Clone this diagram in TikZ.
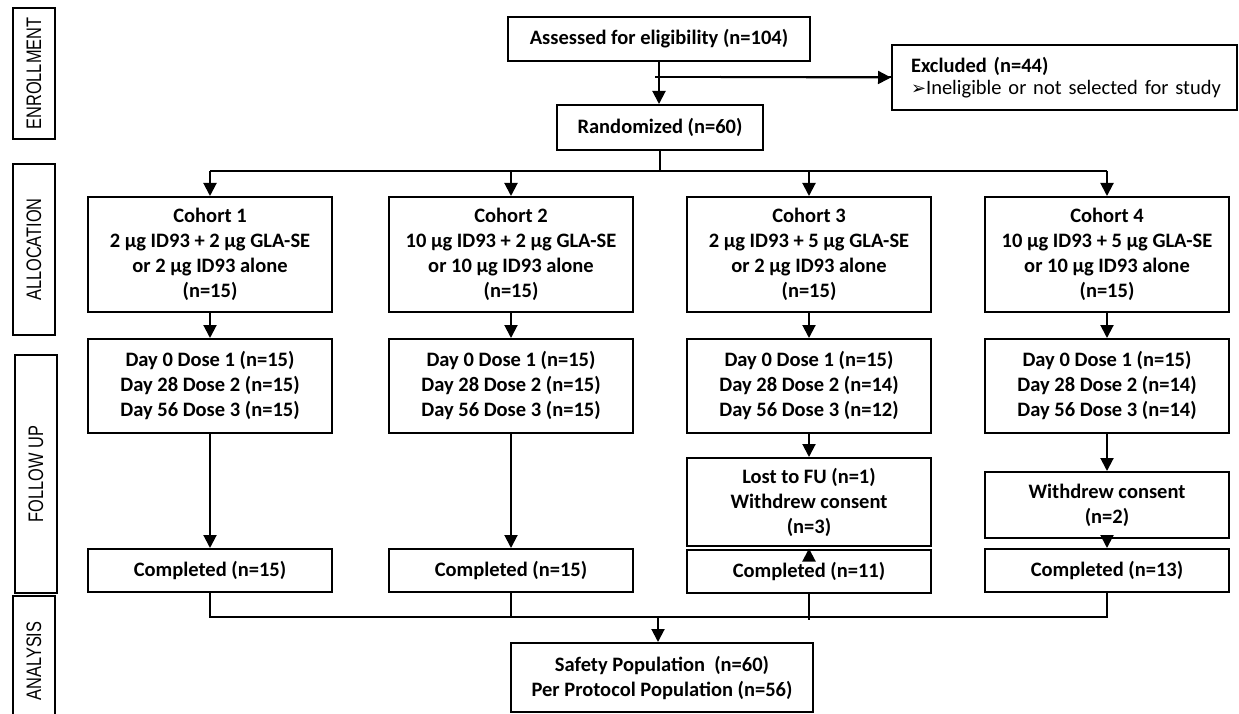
\documentclass[tikz,border=0pt]{standalone}
\usepackage{fontspec}
\usepackage{graphicx}
\setmainfont{Carlito}
\newfontfamily\labfont{Liberation Sans}
\newfontfamily\symfont{DejaVu Sans}
\usetikzlibrary{arrows.meta}
\begin{document}
\begin{tikzpicture}[x=1pt,y=-1pt,
  box/.style={draw, line width=2pt, inner sep=0pt, align=center, font=\bfseries\fontsize{20.5}{25}\selectfont},
  cbox/.style={box, minimum width=244pt},
  arr/.style={line width=2pt, -{Triangle[length=13pt,width=13pt]}},
  ln/.style={line width=2pt},
  lab/.style={draw, line width=2pt, inner sep=0pt, rotate=90, minimum height=42pt, font=\labfont\fontsize{21}{24}\selectfont}
]
\useasboundingbox (0,0) rectangle (1239,714);

% side labels
\node[lab, minimum width=131pt] (lenr) at (34,73.5) {\scalebox{0.78}[1]{ENROLLMENT}};
\node[lab, minimum width=171pt] (lall) at (34,249.5) {\scalebox{0.78}[1]{ALLOCATION}};
\node[lab, minimum width=238pt] (lfol) at (36,474) {\scalebox{0.78}[1]{FOLLOW UP}};
\node[lab, minimum width=130pt] (lana) at (34,661) {\scalebox{0.78}[1]{ANALYSIS}};

% enrollment
\node[box, minimum width=302pt, minimum height=44pt] (assess) at (659,39) {Assessed for eligibility (n=104)};
\node[box, minimum width=206pt, minimum height=45pt] (rand) at (660,127.5) {Randomized (n=60)};
\node[box, align=left, minimum width=345pt, minimum height=65pt, text width=307pt,
      font=\bfseries\fontsize{20.5}{22}\selectfont] (excl) at (1064.5,77.5)
  {Excluded (n=44)\\\mbox{\mdseries{\symfont\fontsize{18}{18}\selectfont ➢}Ineligible or not selected for study}};

% cohorts
\node[cbox, minimum height=115pt] (c1) at (210,254.5) {Cohort 1\\2 µg ID93 + 2 µg GLA-SE\\or 2 µg ID93 alone\\(n=15)};
\node[cbox, minimum height=115pt] (c2) at (511,254.5) {Cohort 2\\10 µg ID93 + 2 µg GLA-SE\\or 10 µg ID93 alone\\(n=15)};
\node[cbox, minimum height=115pt] (c3) at (809,254.5) {Cohort 3\\2 µg ID93 + 5 µg GLA-SE\\or 2 µg ID93 alone\\(n=15)};
\node[cbox, minimum height=115pt] (c4) at (1107,254.5) {Cohort 4\\10 µg ID93 + 5 µg GLA-SE\\or 10 µg ID93 alone\\(n=15)};

% doses
\node[cbox, minimum height=94pt] (d1) at (210,386) {Day 0 Dose 1 (n=15)\\Day 28 Dose 2 (n=15)\\Day 56 Dose 3 (n=15)};
\node[cbox, minimum height=94pt] (d2) at (511,386) {Day 0 Dose 1 (n=15)\\Day 28 Dose 2 (n=15)\\Day 56 Dose 3 (n=15)};
\node[cbox, minimum height=94pt] (d3) at (809,386) {Day 0 Dose 1 (n=15)\\Day 28 Dose 2 (n=14)\\Day 56 Dose 3 (n=12)};
\node[cbox, minimum height=94pt] (d4) at (1107,386) {Day 0 Dose 1 (n=15)\\Day 28 Dose 2 (n=14)\\Day 56 Dose 3 (n=14)};

% follow up
\node[cbox, minimum height=88pt] (f3) at (809,502) {Lost to FU (n=1)\\Withdrew consent\\(n=3)};
\node[cbox, minimum height=66pt] (f4) at (1107,505) {Withdrew consent\\(n=2)};

% completed
\node[cbox, minimum height=43pt] (k1) at (210,570.5) {Completed (n=15)};
\node[cbox, minimum height=43pt] (k2) at (511,570.5) {Completed (n=15)};
\node[cbox, minimum height=43pt] (k3) at (809,571) {Completed (n=11)};
\node[cbox, minimum height=43pt] (k4) at (1107,570.5) {Completed (n=13)};

% analysis
\node[box, minimum width=302pt, minimum height=69pt] (safe) at (662,677.5) {Safety Population \ (n=60)\\Per Protocol Population (n=56)};

% connectors
\coordinate (exstart) at (655,77);
\coordinate (dl) at (0,171);
\coordinate (bl) at (0,617);
\coordinate (join) at (658,617);

\draw[arr] (assess.south) -- (assess.south |- rand.north);
\draw[ln] (exstart) -- (exstart -| excl.west);
\draw[arr] (exstart -| 720,0) -- (excl.west);
\draw[ln] (rand.south) -- (rand.south |- dl);
\draw[ln] (c1.north |- dl) -- (c4.north |- dl);
\foreach \n in {c1,c2,c3,c4} {\draw[arr] (\n.north |- dl) -- (\n.north);}
\draw[arr] (c1) -- (d1);
\draw[arr] (c2) -- (d2);
\draw[arr] (c3) -- (d3);
\draw[arr] (c4) -- (d4);
\draw[arr] (d1) -- (k1);
\draw[arr] (d2) -- (k2);
\draw[arr] (d3) -- (f3);
\draw[arr] (d4) -- (f4);
\draw[arr] (f4) -- (k4);
\draw[arr] ([yshift=-7pt]k3.north) -- (k3.north);

\draw[ln] (k1.south) -- (k1.south |- bl) -- (k4.south |- bl) -- (k4.south);
\draw[ln] (k2.south) -- (k2.south |- bl);
\draw[ln] (k3.south) -- ([yshift=-3pt]k3.south |- bl);
\draw[arr] (join) -- (join |- safe.north);
\end{tikzpicture}
\end{document}
